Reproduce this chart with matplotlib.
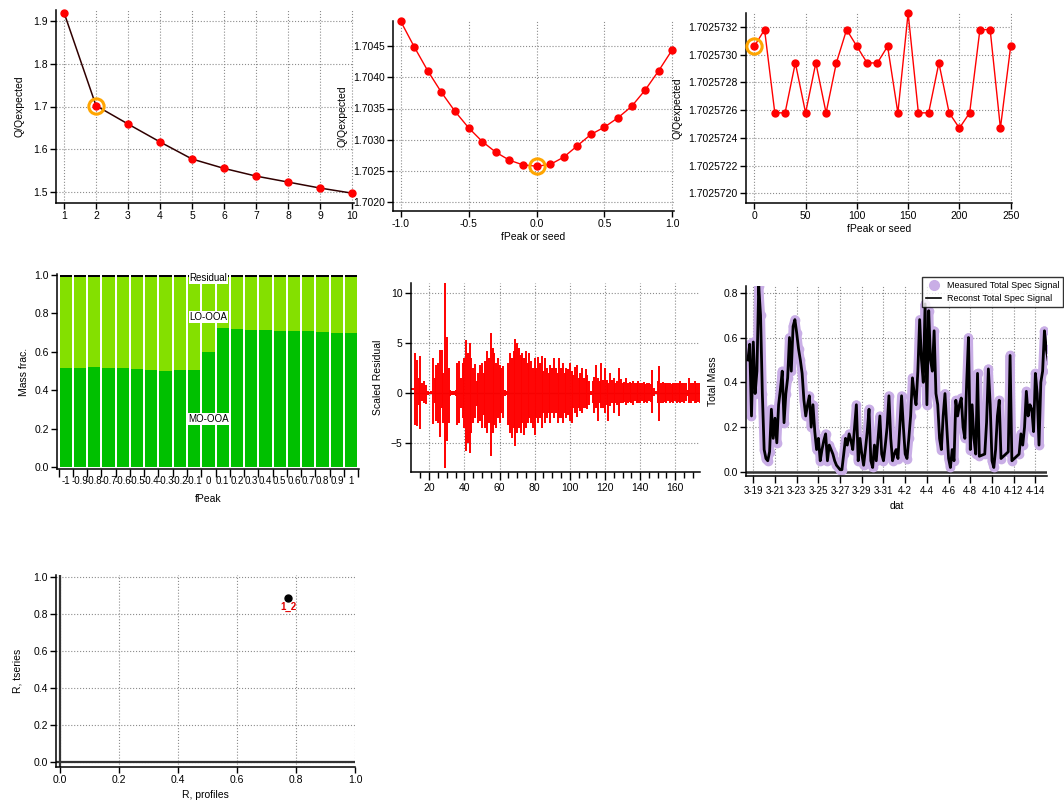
import numpy as np
import pandas as pd
import matplotlib
matplotlib.use('Agg')
import matplotlib.pyplot as plt
import matplotlib.dates as mdates
from matplotlib.ticker import FixedLocator, FormatStrFormatter, FuncFormatter
from matplotlib.lines import Line2D

plt.rcParams['font.family'] = ['Liberation Sans', 'DejaVu Sans']
plt.rcParams['font.size'] = 7.5

# ---- data ----
# Q/Qexp vs number of factors
n_factors = [1, 2, 3, 4, 5, 6, 7, 8, 9, 10]
q_nfac = [1.920, 1.702, 1.659, 1.617, 1.577, 1.555, 1.537, 1.523, 1.509, 1.497]

# Q/Qexp vs fPeak
fpeak = [-1.0, -0.9, -0.8, -0.7, -0.6, -0.5, -0.4, -0.3, -0.2, -0.1, 0.0,
         0.1, 0.2, 0.3, 0.4, 0.5, 0.6, 0.7, 0.8, 0.9, 1.0]
q_fpeak = [1.704895, 1.704484, 1.704099, 1.703757, 1.703453, 1.703191, 1.702972,
           1.702801, 1.702673, 1.702598, 1.702577, 1.702604, 1.702721, 1.702903,
           1.703084, 1.703202, 1.703352, 1.703533, 1.703795, 1.704105, 1.704441]

# Q/Qexp vs seed
seeds = [0, 10, 20, 30, 40, 50, 60, 70, 80, 90, 100, 110, 120, 130, 140, 150,
         160, 170, 180, 190, 200, 210, 220, 230, 240, 250]
q_seed = [1.70257306, 1.70257318, 1.70257258, 1.70257258, 1.70257294, 1.70257258,
          1.70257294, 1.70257258, 1.70257294, 1.70257318, 1.70257306, 1.70257294,
          1.70257294, 1.70257306, 1.70257258, 1.70257330, 1.70257258, 1.70257258,
          1.70257294, 1.70257258, 1.70257247, 1.70257258, 1.70257318, 1.70257318,
          1.70257247, 1.70257306]

# mass fractions per fPeak
fpeak_labels = ['-1', '-0.9', '-0.8', '-0.7', '-0.6', '-0.5', '-0.4', '-0.3', '-0.2', '-0.1',
                '0', '0.1', '0.2', '0.3', '0.4', '0.5', '0.6', '0.7', '0.8', '0.9', '1']
mo_ooa = [0.517, 0.518, 0.520, 0.518, 0.516, 0.512, 0.506, 0.501, 0.505, 0.508, 0.600,
          0.722, 0.718, 0.713, 0.712, 0.710, 0.708, 0.707, 0.703, 0.700, 0.698]
lo_ooa = [0.475, 0.474, 0.472, 0.474, 0.476, 0.480, 0.486, 0.491, 0.487, 0.484, 0.392,
          0.270, 0.274, 0.279, 0.280, 0.282, 0.284, 0.285, 0.289, 0.292, 0.294]
resid_frac = [0.008] * 21

# scaled residual envelope, one entry per unit from 10 to 174
res_x = list(range(10, 175))
res_hi = [0.5, 0.5, 4.0, 3.3, 1.5, 3.7, 1.0, 1.2, 0.8, 0.2,
          0.1, 0.2, 3.5, 1.5, 2.8, 3.0, 4.3, 4.3, 2.0, 11.2,
          5.6, 2.5, 0.3, 0.2, 0.2, 0.3, 3.0, 3.2, 1.5, 3.0,
          3.5, 5.3, 4.0, 5.0, 3.5, 2.5, 2.9, 1.2, 2.0, 2.8,
          3.0, 2.0, 3.2, 4.2, 3.5, 6.0, 4.5, 4.0, 3.0, 3.5,
          2.8, 2.5, 2.7, 0.3, 0.2, 3.0, 4.0, 3.5, 4.2, 5.4,
          5.0, 4.5, 3.8, 4.0, 3.5, 4.2, 3.0, 4.0, 3.2, 2.5,
          3.5, 2.5, 3.6, 3.0, 3.7, 2.2, 3.5, 2.5, 2.0, 2.8,
          2.5, 3.5, 2.5, 2.0, 3.5, 2.5, 3.0, 2.0, 2.5, 2.4,
          3.0, 2.2, 1.8, 2.6, 2.8, 1.5, 2.0, 2.5, 1.5, 2.4,
          1.8, 1.2, 0.2, 1.2, 1.6, 2.8, 1.5, 1.2, 3.0, 1.3,
          2.5, 1.3, 1.0, 2.0, 1.3, 1.5, 1.0, 1.2, 2.5, 1.4,
          1.0, 1.1, 1.5, 1.0, 1.1, 1.0, 1.2, 1.0, 1.0, 1.2,
          1.0, 1.0, 1.1, 0.9, 1.0, 1.0, 0.9, 2.3, 0.5, 0.2,
          1.2, 2.7, 1.0, 1.1, 1.0, 1.0, 1.0, 1.0, 0.9, 1.0,
          1.0, 1.0, 1.0, 1.2, 1.0, 1.0, 1.0, 0.3, 1.5, 1.0,
          1.0, 1.2, 1.0, 1.0, 1.0]
res_lo = [0.3, 0.3, -3.2, -3.3, -1.2, -3.6, -0.8, -1.0, -1.1, -0.2,
          -0.1, -0.1, -3.1, -1.0, -2.8, -3.0, -4.4, -1.5, -3.0, -7.5,
          -4.8, -3.0, -0.3, -0.2, -0.2, -0.3, -3.2, -3.0, -1.5, -2.5,
          -3.5, -5.8, -5.0, -6.0, -4.0, -3.0, -2.5, -1.3, -3.0, -2.8,
          -3.5, -2.2, -3.5, -4.0, -3.0, -6.3, -4.0, -3.2, -3.5, -2.5,
          -3.0, -2.0, -2.5, -0.3, -0.2, -3.2, -4.0, -4.5, -3.5, -5.3,
          -4.0, -3.5, -4.0, -3.0, -4.2, -3.5, -3.0, -2.5, -3.0, -3.5,
          -4.2, -2.5, -3.0, -2.5, -3.5, -2.0, -3.0, -2.5, -2.0, -3.0,
          -2.0, -2.5, -2.0, -3.0, -2.5, -2.5, -3.0, -2.0, -2.5, -2.2,
          -2.8, -3.0, -1.5, -2.0, -2.4, -1.5, -1.8, -2.0, -1.5, -1.5,
          -1.6, -1.2, -0.2, -1.0, -2.0, -1.5, -2.8, -1.0, -1.5, -1.5,
          -2.0, -1.2, -2.8, -1.3, -1.0, -2.0, -1.0, -1.2, -2.3, -1.0,
          -1.0, -0.9, -1.2, -1.0, -0.9, -1.0, -1.2, -0.8, -1.0, -1.0,
          -1.0, -0.8, -1.0, -0.9, -1.0, -0.8, -0.9, -2.0, -0.3, -0.1,
          -1.0, -2.8, -1.0, -1.0, -0.9, -1.0, -0.8, -1.0, -0.9, -1.0,
          -0.8, -1.0, -0.9, -1.0, -0.9, -1.0, -0.8, -0.3, -1.0, -1.0,
          -0.8, -1.0, -1.0, -0.9, -1.0]

# total signal, 4-hourly from 3-18 12:00 (nan = no measurement)
nan = np.nan
total_mass = [0.50, 0.57, 0.25, 0.58, 0.35, 0.45, 0.83, 0.70, 0.35, 0.10,
              0.06, 0.05, 0.09, 0.28, 0.15, 0.24, 0.13, 0.30, 0.37, 0.45,
              0.22, 0.35, 0.42, 0.60, 0.45, 0.65, 0.68, 0.62, 0.55, 0.50,
              0.44, 0.32, 0.25, 0.30, 0.34, 0.20, 0.30, 0.18, 0.10, 0.15,
              0.05, 0.10, 0.14, 0.17, 0.05, 0.12, 0.10, 0.08, 0.05, 0.03,
              0.02, 0.01, 0.01, 0.08, 0.15, 0.12, 0.17, 0.14, 0.10, 0.20,
              0.30, 0.05, 0.15, 0.08, 0.03, 0.10, 0.18, 0.28, 0.05, 0.02,
              0.12, 0.05, 0.15, 0.25, 0.08, 0.05, 0.12, 0.20, 0.34, 0.15,
              0.05, 0.08, 0.10, 0.06, 0.20, 0.34, 0.20, 0.08, 0.06, 0.15,
              0.25, 0.42, 0.35, 0.30, 0.45, 0.68, 0.50, 0.40, 0.75, 0.30,
              0.72, 0.50, 0.45, 0.63, 0.35, 0.30, 0.15, 0.10, 0.25, 0.35,
              0.20, 0.06, 0.02, 0.10, 0.05, 0.32, 0.25, 0.30, 0.33, 0.20,
              0.15, 0.40, 0.60, 0.10, 0.30, 0.15, 0.08, 0.44, 0.07, nan,
              nan, 0.08, 0.22, 0.46, 0.30, 0.05, 0.02, 0.10, 0.25, 0.32,
              0.06, nan, nan, nan, 0.09, 0.52, 0.05, nan, nan, nan,
              0.08, 0.17, 0.12, 0.20, 0.36, 0.25, 0.30, 0.28, 0.18, 0.44,
              0.35, 0.12, 0.40, 0.45, 0.63, 0.55, 0.50]
ts_time = pd.date_range('2019-03-18 12:00', periods=len(total_mass), freq='4h')

# factor correlation
r_profiles = [0.773]
r_tseries = [0.888]
pair_labels = ['1_2']

# ---- figure ----
W, H = 1064, 809
fig = plt.figure(figsize=(W / 100, H / 100), dpi=100)
grid_kw = dict(ls=':', color='#8c8c8c', lw=0.8)
red = '#ff0000'
orange = '#ffa500'


def panel(l, t, r, b):
    ax = fig.add_axes([l / W, 1 - b / H, (r - l) / W, (b - t) / H])
    ax.spines['top'].set_visible(False)
    ax.spines['right'].set_visible(False)
    for s in ('left', 'bottom'):
        ax.spines[s].set_linewidth(1.1)
    ax.tick_params(direction='out', length=4, width=1, pad=2, labelsize=7.5)
    ax.set_axisbelow(True)
    return ax


# panel 1
ax1 = panel(56, 10, 354, 203)
ax1.plot(n_factors, q_nfac, color='#300000', lw=1.1, zorder=2)
ax1.plot(n_factors, q_nfac, 'o', color=red, ms=5, zorder=3, clip_on=False)
ax1.plot(n_factors[1], q_nfac[1], 'o', mfc='none', mec=orange, ms=11, mew=2.2, zorder=4)
ax1.set_xlim(0.75, 10.06)
ax1.set_ylim(1.474, 1.926)
ax1.set_xticks(n_factors)
ax1.set_yticks([1.5, 1.6, 1.7, 1.8, 1.9])
ax1.yaxis.set_major_formatter(FormatStrFormatter('%.1f'))
ax1.grid(True, **grid_kw)
ax1.set_ylabel('Q/Qexpected', labelpad=6)

# panel 2
ax2 = panel(393, 21, 674, 211)
ax2.plot(fpeak, q_fpeak, color=red, lw=1, zorder=2)
ax2.plot(fpeak, q_fpeak, 'o', color=red, ms=5, zorder=3, clip_on=False)
ax2.plot(fpeak[10], q_fpeak[10], 'o', mfc='none', mec=orange, ms=11, mew=2.2, zorder=4)
ax2.set_xlim(-1.057, 1.0125)
ax2.set_ylim(1.70186, 1.70490)
ax2.set_xticks([-1.0, -0.5, 0.0, 0.5, 1.0])
ax2.xaxis.set_major_formatter(FormatStrFormatter('%.1f'))
ax2.set_yticks([1.7020, 1.7025, 1.7030, 1.7035, 1.7040, 1.7045])
ax2.yaxis.set_major_formatter(FormatStrFormatter('%.4f'))
ax2.grid(True, **grid_kw)
ax2.set_ylabel('Q/Qexpected', labelpad=4)
ax2.set_xlabel('fPeak or seed', labelpad=2)

# panel 3
ax3 = panel(746, 13, 1012, 203)
ax3.plot(seeds, q_seed, color=red, lw=1, zorder=2)
ax3.plot(seeds, q_seed, 'o', color=red, ms=5, zorder=3, clip_on=False)
ax3.plot(seeds[0], q_seed[0], 'o', mfc='none', mec=orange, ms=11, mew=2.2, zorder=4, clip_on=False)
ax3.set_xlim(-8.1, 251.3)
ax3.set_ylim(1.70257193, 1.70257330)
ax3.set_xticks([0, 50, 100, 150, 200, 250])
ax3.set_yticks([1.7025720, 1.7025722, 1.7025724, 1.7025726, 1.7025728, 1.7025730, 1.7025732])
ax3.yaxis.set_major_formatter(FormatStrFormatter('%.7f'))
ax3.grid(True, **grid_kw)
ax3.set_ylabel('Q/Qexpected', labelpad=4)
ax3.set_xlabel('fPeak or seed', labelpad=2)

# panel 4 - stacked mass fractions
ax4 = panel(57, 274, 359, 469)
pos = np.arange(len(fpeak_labels))
ax4.bar(pos, mo_ooa, width=0.86, color='#00c000', zorder=2)
ax4.bar(pos, lo_ooa, width=0.86, bottom=mo_ooa, color='#84e000', zorder=2)
ax4.bar(pos, resid_frac, width=0.86, bottom=np.add(mo_ooa, lo_ooa), color='black', zorder=2)
ax4.set_xlim(-0.61, 20.55)
ax4.set_ylim(-0.008, 1.005)
ax4.set_xticks(pos)
ax4.set_xticklabels(fpeak_labels)
ax4.xaxis.set_minor_locator(FixedLocator(np.arange(-0.5, 21, 1.0)))
ax4.tick_params(axis='x', which='major', length=0, pad=5, labelsize=7)
ax4.tick_params(axis='x', which='minor', direction='out', length=6, width=1)
ax4.set_yticks([0.0, 0.2, 0.4, 0.6, 0.8, 1.0])
ax4.yaxis.set_major_formatter(FormatStrFormatter('%.1f'))
ax4.set_ylabel('Mass frac.', labelpad=4)
ax4.set_xlabel('fPeak', labelpad=6)
box = dict(facecolor='white', edgecolor='none', pad=0.6)
ax4.text(10, 0.985, 'Residual', ha='center', va='center', fontsize=7, bbox=box, zorder=5)
ax4.text(10, 0.783, 'LO-OOA', ha='center', va='center', fontsize=7, bbox=box, zorder=5)
ax4.text(10, 0.25, 'MO-OOA', ha='center', va='center', fontsize=7, bbox=box, zorder=5)

# panel 5 - scaled residual
ax5 = panel(411, 283, 700, 472)
ax5.axhline(0, color='black', lw=1, zorder=1)
ax5.vlines(res_x, res_lo, res_hi, color=red, lw=1.4, alpha=1.0, zorder=2)
ax5.set_xlim(9.6, 174.1)
ax5.set_ylim(-7.93, 11.03)
ax5.set_xticks([20, 40, 60, 80, 100, 120, 140, 160])
ax5.xaxis.set_minor_locator(FixedLocator(np.arange(15, 175, 5)))
ax5.tick_params(axis='x', which='major', length=6)
ax5.tick_params(axis='x', which='minor', length=4, width=1)
ax5.set_yticks([-5, 0, 5, 10])
ax5.grid(True, **grid_kw)
ax5.set_ylabel('Scaled Residual', labelpad=6)

# panel 6 - total signal
ax6 = panel(746, 286, 1047, 476)
lav = '#c9aee6'
ts = pd.Series(total_mass, index=ts_time)
ax6.plot(ts.index, ts.values, color=lav, lw=6.5, solid_capstyle='round', zorder=2)
ax6.plot(ts.index, ts.values, 'o', color=lav, ms=6, zorder=2)
rec = ts.dropna()
ax6.plot(rec.index, rec.values, color='black', lw=2.0, zorder=3)
ax6.axhline(0, color='#333333', lw=1.8, zorder=1)
x0 = mdates.date2num(pd.Timestamp('2019-03-19'))
ax6.set_xlim(x0 - 0.673, x0 + 27.07)
ax6.set_ylim(-0.018, 0.83)
ax6.set_xticks([x0 + 2 * i for i in range(14)])
ax6.xaxis.set_major_formatter(FuncFormatter(
    lambda v, p: '%d-%d' % (mdates.num2date(v).month, mdates.num2date(v).day)))
ax6.tick_params(axis='x', length=5, labelsize=7)
ax6.set_yticks([0.0, 0.2, 0.4, 0.6, 0.8])
ax6.yaxis.set_major_formatter(FormatStrFormatter('%.1f'))
ax6.grid(True, **grid_kw)
ax6.set_ylabel('Total Mass', labelpad=4)
ax6.set_xlabel('dat', labelpad=4)
handles = [Line2D([], [], marker='o', ls='none', color=lav, ms=7),
           Line2D([], [], color='black', lw=1.2)]
leg = ax6.legend(handles, ['Measured Total Spec Signal', 'Reconst Total Spec Signal'],
                 loc='upper left', bbox_to_anchor=(922 / W, 1 - 277 / H),
                 bbox_transform=fig.transFigure, fontsize=6.5, frameon=True,
                 fancybox=False, borderaxespad=0, handlelength=1.7, handletextpad=0.6,
                 labelspacing=0.45, borderpad=0.45)
leg.get_frame().set_edgecolor('black')
leg.get_frame().set_linewidth(1)

# panel 7 - correlation
ax7 = panel(56, 575, 355, 767)
ax7.axhline(0, color='#333333', lw=1.6, zorder=1)
ax7.axvline(0, color='#333333', lw=1.6, zorder=1)
ax7.plot(r_profiles, r_tseries, 'o', color='black', ms=5, zorder=3)
for xp, yp, lab in zip(r_profiles, r_tseries, pair_labels):
    ax7.text(xp, yp - 0.025, lab, color='#e00000', fontsize=7, fontweight='bold',
             ha='center', va='top')
ax7.set_xlim(-0.0146, 1.0)
ax7.set_ylim(-0.029, 1.01)
ax7.set_xticks([0.0, 0.2, 0.4, 0.6, 0.8, 1.0])
ax7.set_yticks([0.0, 0.2, 0.4, 0.6, 0.8, 1.0])
ax7.xaxis.set_major_formatter(FormatStrFormatter('%.1f'))
ax7.yaxis.set_major_formatter(FormatStrFormatter('%.1f'))
ax7.grid(True, **grid_kw)
ax7.set_ylabel('R, tseries', labelpad=8)
ax7.set_xlabel('R, profiles', labelpad=3)

fig.savefig('out.png', dpi=100)
